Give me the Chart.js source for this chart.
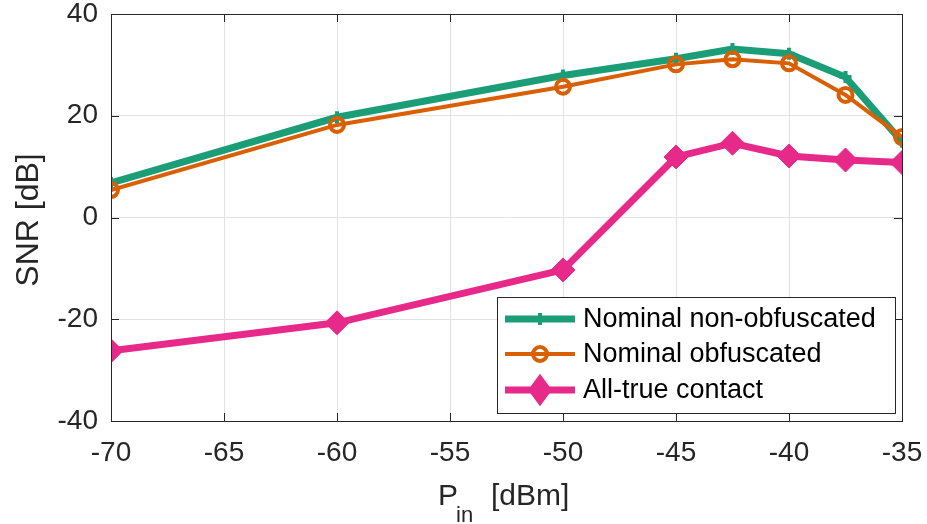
<!DOCTYPE html>
<html>
<head>
<meta charset="utf-8">
<script src="https://cdn.jsdelivr.net/npm/chart.js@4.4.1/dist/chart.umd.min.js"></script>
<style>
  html, body { margin: 0; padding: 0; background: #ffffff; }
  #wrap { width: 927px; height: 524px; position: relative; }
</style>
</head>
<body>
<div id="wrap"><canvas id="c" width="927" height="524"></canvas></div>
<script>
// ---- data ----
const pin = [-70, -60, -50, -45, -42.5, -40, -37.5, -35];
const nominalNonObf = [6.8, 19.7, 27.9, 31.2, 33.1, 32.2, 27.6, 14.9];
const nominalObf = [5.4, 18.2, 25.7, 30.1, 31.1, 30.3, 24.1, 15.8];
const allTrue = [-26.2, -20.7, -10.3, 11.9, 14.6, 12.1, 11.3, 10.8];
const seriesNames = ['Nominal non-obfuscated', 'Nominal obfuscated', 'All-true contact'];
const xTicks = [-70, -65, -60, -55, -50, -45, -40, -35];
const yTicks = [-40, -20, 0, 20, 40];
const xLabel = { main: 'P', sub: 'in', rest: '[dBm]' };
const yLabel = 'SNR [dB]';

const FONT = '"Liberation Sans", Arial, Helvetica, sans-serif';
const AXIS_COLOR = '#262626';
const GRID_COLOR = '#e2e2e2';

function pts(ys) { return pin.map((x, i) => ({ x: x, y: ys[i] })); }

const boxPlugin = {
  id: 'boxPlugin',
  afterDatasetsDraw(chart) {
    const { ctx, chartArea: a, scales } = chart;
    ctx.save();
    ctx.strokeStyle = AXIS_COLOR;
    ctx.lineWidth = 1;
    const tl = 8;
    ctx.beginPath();
    xTicks.forEach(v => {
      const px = Math.round(scales.x.getPixelForValue(v)) + 0.5;
      ctx.moveTo(px, a.bottom); ctx.lineTo(px, a.bottom - tl);
      ctx.moveTo(px, a.top); ctx.lineTo(px, a.top + tl);
    });
    yTicks.forEach(v => {
      const py = Math.round(scales.y.getPixelForValue(v)) + 0.5;
      ctx.moveTo(a.left, py); ctx.lineTo(a.left + tl, py);
      ctx.moveTo(a.right, py); ctx.lineTo(a.right - tl, py);
    });
    ctx.stroke();
    ctx.strokeRect(Math.round(a.left) + 0.5, Math.round(a.top) + 0.5,
                   Math.round(a.right - a.left), Math.round(a.bottom - a.top));
    ctx.restore();
  },
  afterDraw(chart) {
    const { ctx, chartArea: a } = chart;
    ctx.save();
    // legend
    const lx = 497, ly = 297, lw = 398, lh = 116;
    ctx.fillStyle = '#ffffff';
    ctx.fillRect(lx, ly, lw, lh);
    ctx.strokeStyle = AXIS_COLOR;
    ctx.lineWidth = 1;
    ctx.strokeRect(lx + 0.5, ly + 0.5, lw, lh);
    const rows = [319, 354, 390];
    chart.data.datasets.forEach((ds, i) => {
      const y = rows[i];
      ctx.strokeStyle = ds.borderColor;
      ctx.lineWidth = ds.borderWidth;
      ctx.beginPath(); ctx.moveTo(505, y); ctx.lineTo(575, y); ctx.stroke();
      ctx.fillStyle = ds.pointBackgroundColor;
      ctx.strokeStyle = ds.borderColor;
      ctx.lineWidth = ds.pointBorderWidth;
      ctx.beginPath();
      const r = ds.pointRadius;
      if (ds.pointStyle === 'rectRot') {
        ctx.moveTo(540, y - r * 1.35); ctx.lineTo(540 + r, y); ctx.lineTo(540, y + r * 1.35); ctx.lineTo(540 - r, y); ctx.closePath();
        ctx.fill();
      } else if (ds.pointStyle === 'circle') {
        ctx.arc(540, y, r, 0, Math.PI * 2); ctx.stroke();
      } else {
        ctx.moveTo(540, y - r); ctx.lineTo(540, y + r);
        ctx.moveTo(540 - r, y); ctx.lineTo(540 + r, y); ctx.stroke();
      }
      ctx.fillStyle = '#000000';
      ctx.font = '27px ' + FONT;
      ctx.textAlign = 'left';
      ctx.textBaseline = 'middle';
      ctx.fillText(ds.label, 583, y + 1);
    });
    // y axis title
    ctx.fillStyle = AXIS_COLOR;
    ctx.save();
    ctx.translate(29, 220);
    ctx.rotate(-Math.PI / 2);
    ctx.font = '32px ' + FONT;
    ctx.textAlign = 'center';
    ctx.textBaseline = 'middle';
    ctx.fillText(yLabel, 0, 0);
    ctx.restore();
    // x axis title with subscript
    ctx.textBaseline = 'alphabetic';
    ctx.textAlign = 'left';
    const fMain = '30px ' + FONT, fSub = '22px ' + FONT;
    const base = 505;
    ctx.font = fMain; ctx.fillText(xLabel.main, 438, base);
    ctx.font = fSub; ctx.fillText(xLabel.sub, 456, base + 17);
    ctx.font = fMain; ctx.fillText(xLabel.rest, 491, base);
    ctx.restore();
  }
};

new Chart(document.getElementById('c'), {
  type: 'line',
  data: {
    datasets: [
      {
        label: seriesNames[0], data: pts(nominalNonObf), order: 3,
        borderColor: '#1b9e77', backgroundColor: '#1b9e77', borderWidth: 7,
        pointStyle: 'cross', pointRadius: 6, pointBorderWidth: 4,
        pointBackgroundColor: '#1b9e77', pointBorderColor: '#1b9e77'
      },
      {
        label: seriesNames[1], data: pts(nominalObf), order: 2,
        borderColor: '#d95f02', backgroundColor: 'rgba(0,0,0,0)', borderWidth: 4,
        pointStyle: 'circle', pointRadius: 7, pointBorderWidth: 4,
        pointBackgroundColor: 'rgba(0,0,0,0)', pointBorderColor: '#d95f02'
      },
      {
        label: seriesNames[2], data: pts(allTrue), order: 1,
        borderColor: '#e7298a', backgroundColor: '#e7298a', borderWidth: 7,
        pointStyle: 'rectRot', pointRadius: 12, pointBorderWidth: 1,
        pointBackgroundColor: '#e7298a', pointBorderColor: '#e7298a'
      }
    ]
  },
  options: {
    responsive: false,
    animation: false,
    layout: { padding: { left: 0, right: 25, top: 14, bottom: 0 } },
    plugins: { legend: { display: false }, tooltip: { enabled: false }, title: { display: false } },
    scales: {
      x: {
        type: 'linear', min: -70, max: -35,
        afterBuildTicks: s => { s.ticks = xTicks.map(v => ({ value: v })); },
        afterFit: s => { s.height = 103; s.paddingLeft = 0; s.paddingRight = 0; },
        grid: { color: GRID_COLOR, drawTicks: false },
        border: { display: false },
        ticks: { color: AXIS_COLOR, font: { family: FONT, size: 28 }, padding: 15, maxRotation: 0, autoSkip: false }
      },
      y: {
        type: 'linear', min: -40, max: 40,
        afterBuildTicks: s => { s.ticks = yTicks.map(v => ({ value: v })); },
        afterFit: s => { s.width = 111; s.paddingTop = 0; s.paddingBottom = 0; },
        grid: { color: GRID_COLOR, drawTicks: false },
        border: { display: false },
        ticks: { color: AXIS_COLOR, font: { family: FONT, size: 28 }, padding: 13 }
      }
    }
  },
  plugins: [boxPlugin]
});
</script>
</body>
</html>
